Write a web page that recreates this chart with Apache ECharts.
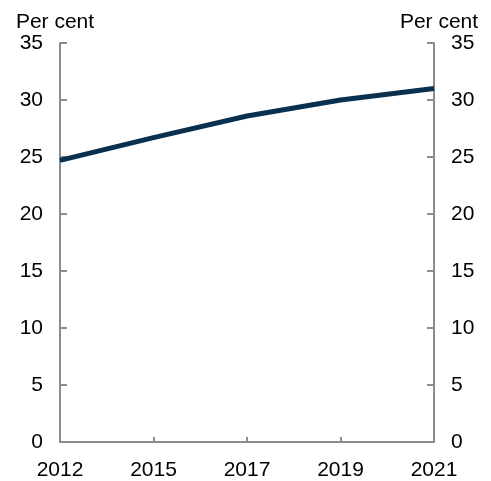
<!DOCTYPE html>
<html>
<head>
<meta charset="utf-8">
<script src="https://cdn.jsdelivr.net/npm/echarts@6/dist/echarts.min.js"></script>
<style>
  html, body { margin: 0; padding: 0; background: #fff; }
  #chart { width: 491px; height: 481px; }
</style>
</head>
<body>
<div id="chart"></div>
<script>
// data
const years = ['2012', '2015', '2017', '2019', '2021'];
const share = [24.7, 26.7, 28.6, 30.0, 31.0];
const yTicks = [0, 35, 5]; // min, max, interval

const chart = echarts.init(document.getElementById('chart'));
const axisGrey = '#8c8c8c';
const font = 'Liberation Sans, Arial, sans-serif';

function valueAxis(pos) {
  return {
    type: 'value',
    position: pos,
    min: yTicks[0],
    max: yTicks[1],
    interval: yTicks[2],
    name: 'Per cent',
    nameLocation: 'end',
    nameGap: 6,
    nameTextStyle: {
      color: '#000', fontSize: 21, fontFamily: font,
      padding: pos === 'left' ? [0, 10, 0, 0] : [0, 0, 0, 10]
    },
    axisLine: { show: true, lineStyle: { color: axisGrey, width: 2 } },
    axisTick: { show: true, inside: true, length: 7, lineStyle: { color: axisGrey, width: 2 } },
    axisLabel: { color: '#000', fontSize: 21, fontFamily: font, margin: 17, padding: [5, 0, 0, 0] },
    splitLine: { show: false }
  };
}

let option = {
  animation: false,
  grid: { left: 60, right: 57, top: 43, bottom: 37, containLabel: false },
  xAxis: {
    type: 'category',
    data: years,
    boundaryGap: false,
    axisLine: { lineStyle: { color: axisGrey, width: 2 } },
    axisTick: { show: true, inside: true, length: 5, lineStyle: { color: axisGrey, width: 2 } },
    axisLabel: { color: '#000', fontSize: 21, fontFamily: font, margin: 18 },
    splitLine: { show: false }
  },
  yAxis: [valueAxis('left'), valueAxis('right')],
  series: [
    {
      type: 'line',
      data: share,
      showSymbol: false,
      lineStyle: { color: '#0a3050', width: 5 }
    }
  ]
};
chart.setOption(option);
</script>
</body>
</html>
